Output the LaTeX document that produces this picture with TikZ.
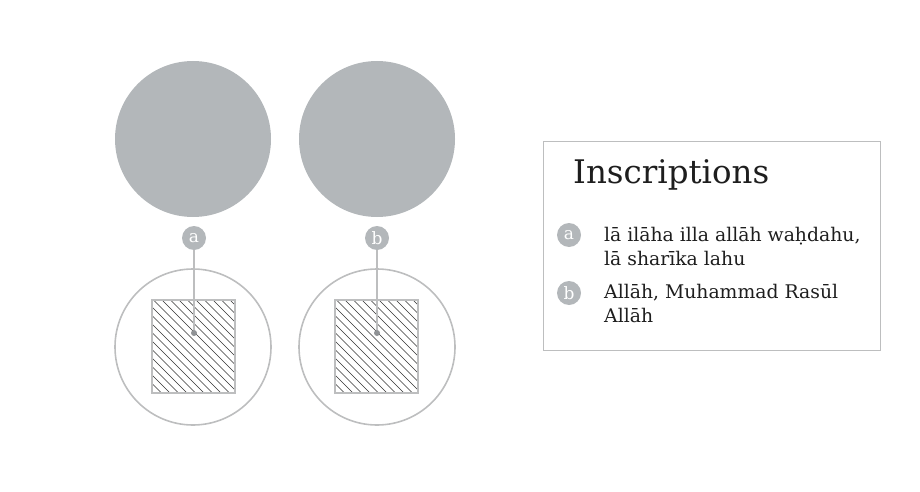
\documentclass[tikz,border=0pt]{standalone}
\usepackage{fontspec}
\setmainfont{DejaVu Serif}
\definecolor{discgray}{HTML}{B3B7BA}
\definecolor{linegray}{HTML}{BDBEBF}
\definecolor{textblack}{HTML}{1E1E1E}
\begin{document}
\begin{tikzpicture}[x=1pt,y=-1pt,
  disc/.style={circle,fill=discgray,draw=none,minimum size=156pt,inner sep=0pt},
  ring/.style={circle,draw=linegray,line width=1.6pt,minimum size=156pt,inner sep=0pt},
  tag/.style={circle,fill=discgray,text=white,minimum size=24pt,inner sep=0pt,font=\fontsize{17}{17}\selectfont},
  pin/.style={circle,fill=discgray!80!black,minimum size=6pt,inner sep=0pt},
  sq/.style={draw=linegray,line width=1.6pt,minimum width=83pt,minimum height=93pt,inner sep=0pt},
  leader/.style={draw=linegray,line width=1.6pt},
  legendtext/.style={anchor=base west,inner sep=0pt,text=textblack,font=\fontsize{18.8}{24}\selectfont},
]
\useasboundingbox (0,0) rectangle (920,492);
% top discs
\node[disc] (d1) at (193,139) {};
\node[disc] (d2) at (377,139) {};
% bottom rings
\node[ring] (r1) at (193,347) {};
\node[ring] (r2) at (377,347) {};
% hatched squares
\foreach \cx/\nm in {193.5/s1,376.5/s2}{
  \begin{scope}
    \clip (\cx-41.5,300.5) rectangle (\cx+41.5,393);
    \foreach \c in {-100,-91.5,...,100}
      \draw[line width=0.6pt,black!80] (\cx-41.5+\c,300.5) -- ++(110,110);
  \end{scope}
  \node[sq] (\nm) at (\cx,346.75) {};
}
% pins and tags
\node[pin] (p1) at (194,333) {};
\node[pin] (p2) at (377,333) {};
\node[tag] (ta) at (194,238) {a};
\node[tag] (tb) at (377,238) {b};
\draw[leader] (ta) -- (p1);
\draw[leader] (tb) -- (p2);
% legend
\node[draw=linegray,line width=1pt,minimum width=337pt,minimum height=209pt,inner sep=0pt] (box) at (711.5,245.5) {};
\node[anchor=base west,inner sep=0pt,text=textblack,font=\fontsize{32.5}{32.5}\selectfont] (title) at (573,183) {Inscriptions};
\node[tag] (la) at (569,235) {a};
\node[tag] (lb) at (569,293) {b};
\node[legendtext] (ea1) at (604,241) {lā ilāha illa allāh waḥdahu,};
\node[legendtext] (ea2) at (604,265) {lā sharīka lahu};
\node[legendtext] (eb1) at (604,298) {Allāh, Muhammad Rasūl};
\node[legendtext] (eb2) at (604,322) {Allāh};
\end{tikzpicture}
\end{document}
